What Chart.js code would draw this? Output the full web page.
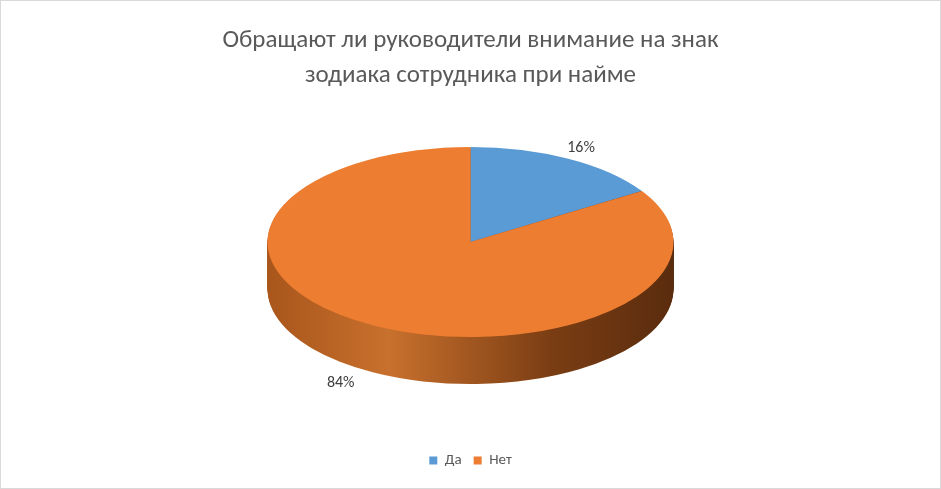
<!DOCTYPE html>
<html>
<head>
<meta charset="utf-8">
<script src="https://cdn.jsdelivr.net/npm/chart.js@4"></script>
<style>
  body { margin: 0; background: #fff; }
  #wrap { width: 939px; height: 487px; border: 1px solid #d9d9d9; }
</style>
</head>
<body>
<div id="wrap"><canvas id="pieChart" width="939" height="487"></canvas></div>
<script>
const labels = ["Да", "Нет"];
const values = [16, 84];
const colors = ["#5B9BD5", "#ED7D31"];

// look of the tilted pie
const rx = 203, ry = 95, depth = 47, centerY = 241;

function squash(ctx, arc) {
  const s = rx / arc.outerRadius;
  ctx.translate(arc.x, centerY);
  ctx.scale(s, s * ry / rx);
  ctx.translate(-arc.x, -arc.y);
}

const tilt = {
  id: "tilt",
  beforeDatasetsDraw(chart) {
    const { ctx } = chart;
    const arcs = chart.getDatasetMeta(0).data;
    const cx = arcs[0].x;
    const grad = ctx.createLinearGradient(cx - rx, 0, cx + rx, 0);
    grad.addColorStop(0, "#a9561c");
    grad.addColorStop(0.3, "#c8702d");
    grad.addColorStop(0.7, "#7a3d13");
    grad.addColorStop(1, "#5a2c0e");
    for (let d = depth; d >= 1; d--) {
      arcs.forEach((arc, i) => {
        ctx.save();
        ctx.translate(0, d);
        // gradient must be in screen space, so fill via composite trick: draw arc path then fill
        squash(ctx, arc);
        const old = arc.options.backgroundColor, ob = arc.options.borderWidth;
        arc.options.backgroundColor = i === 0 ? "#2f5a85" : "#000";
        arc.options.borderWidth = 0;
        arc.draw(ctx);
        arc.options.backgroundColor = old;
        arc.options.borderWidth = ob;
        ctx.restore();
      });
    }
    // recolour the side with the gradient (only where already drawn)
    ctx.save();
    ctx.globalCompositeOperation = "source-atop";
    ctx.fillStyle = grad;
    ctx.fillRect(cx - rx - 2, centerY - ry - 2, rx * 2 + 4, ry * 2 + depth + 4);
    ctx.restore();
    ctx.save();
    squash(ctx, arcs[0]);
  },
  afterDatasetsDraw(chart) {
    const { ctx } = chart;
    ctx.restore();
    const arcs = chart.getDatasetMeta(0).data;
    ctx.save();
    ctx.font = "16px Calibri, 'Liberation Sans', sans-serif";
    ctx.fillStyle = "#404040";
    ctx.textAlign = "center";
    ctx.textBaseline = "middle";
    arcs.forEach((arc, i) => {
      const a = (arc.startAngle + arc.endAngle) / 2;
      const r = 1.13;
      let x = arc.x + Math.cos(a) * rx * r;
      let y = centerY + Math.sin(a) * ry * r;
      if (Math.sin(a) > 0) { y += depth; x += Math.cos(a) * 40; }
      ctx.fillText(values[i] + "%", x, y);
    });
    ctx.restore();
  }
};

new Chart("pieChart", {
  type: "pie",
  data: {
    labels: labels,
    datasets: [{
      data: values,
      backgroundColor: colors,
      borderColor: "#ffffff",
      borderWidth: 0
    }]
  },
  options: {
    responsive: false,
    animation: false,
    layout: { padding: { top: 10, bottom: 10 } },
    plugins: {
      tooltip: { enabled: false },
      title: {
        display: true,
        text: ["Обращают ли руководители внимание на знак", "зодиака сотрудника при найме"],
        color: "#595959",
        font: { size: 25, family: "Calibri, 'Liberation Sans', sans-serif", weight: "normal", lineHeight: 1.4 },
        padding: { top: 12, bottom: 10 }
      },
      legend: {
        position: "bottom",
        labels: {
          color: "#595959",
          font: { size: 15, family: "Calibri, 'Liberation Sans', sans-serif" },
          boxWidth: 8, boxHeight: 8, padding: 12
        }
      }
    }
  },
  plugins: [tilt]
});
</script>
</body>
</html>
